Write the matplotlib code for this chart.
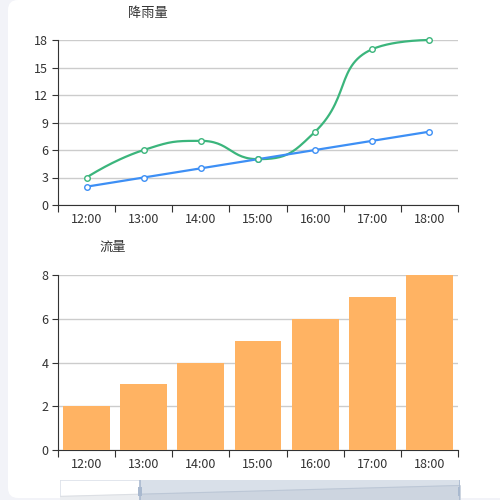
import numpy as np
import matplotlib
matplotlib.use("Agg")
import matplotlib.pyplot as plt
from matplotlib.patches import FancyBboxPatch, Rectangle

plt.rcParams['font.family'] = ['Noto Sans CJK SC', 'DejaVu Sans']

hours = ['12:00', '13:00', '14:00', '15:00', '16:00', '17:00', '18:00']
rain_green = [3, 6, 7, 5, 8, 17, 18]
rain_blue = [2, 3, 4, 5, 6, 7, 8]
flow = [2, 3, 4, 5, 6, 7, 8]

GREEN = '#3bb57c'
BLUE = '#3d8ff5'
ORANGE = '#ffb363'
TXT = '#333333'
GRID = '#cccccc'


def clamp(v, a, b):
    return min(max(v, min(a, b)), max(a, b))


def smooth_path(ax, xs, ys, smooth=0.5, n=30):
    # echarts style bezier smoothing with clamped control points, in pixel space
    pts = ax.transData.transform(np.column_stack([xs, ys]))
    m = len(pts)
    cps = []
    for i in range(m):
        p = pts[i]
        if i == 0 or i == m - 1:
            cps.append((p.copy(), p.copy()))
            continue
        prev, nxt = pts[i - 1], pts[i + 1]
        vec = nxt - prev
        lp = np.linalg.norm(p - prev)
        ln = np.linalg.norm(nxt - p)
        r = ln / (ln + lp)
        c1 = p + vec * smooth * r
        c1 = np.array([clamp(c1[0], nxt[0], p[0]), clamp(c1[1], nxt[1], p[1])])
        c0 = p - (c1 - p) * lp / ln
        c0 = np.array([clamp(c0[0], prev[0], p[0]), clamp(c0[1], prev[1], p[1])])
        c1 = p + (p - c0) * ln / lp
        cps.append((c0, c1))
    out = [pts[0]]
    t = np.linspace(0, 1, n)[1:, None]
    for i in range(m - 1):
        p0, p3 = pts[i], pts[i + 1]
        p1, p2 = cps[i][1], cps[i + 1][0]
        seg = ((1 - t) ** 3) * p0 + 3 * ((1 - t) ** 2) * t * p1 + 3 * (1 - t) * t ** 2 * p2 + t ** 3 * p3
        out.extend(seg)
    out = ax.transData.inverted().transform(np.array(out))
    return out[:, 0], out[:, 1]


def style_axis(ax, ymax, step):
    ax.set_xlim(-0.5, len(hours) - 0.5)
    ax.set_ylim(0, ymax)
    ax.set_yticks(np.arange(0, ymax + 0.1, step))
    ax.set_xticks(np.arange(-0.5, len(hours), 1.0))
    ax.set_xticklabels([])
    ax.set_xticks(np.arange(len(hours)), minor=True)
    ax.set_xticklabels(hours, minor=True)
    ax.tick_params(axis='x', which='major', length=5, color=TXT, direction='out')
    ax.tick_params(axis='x', which='minor', length=0, pad=6, labelsize=9, labelcolor=TXT)
    ax.tick_params(axis='y', length=4, color=TXT, labelsize=9, labelcolor=TXT, pad=3)
    ax.grid(axis='y', color=GRID, linewidth=1)
    ax.set_axisbelow(True)
    for s in ['top', 'right']:
        ax.spines[s].set_visible(False)
    ax.spines['left'].set_color(TXT)
    ax.spines['bottom'].set_color(TXT)
    ax.set_facecolor('none')


fig = plt.figure(figsize=(5, 5), dpi=100)
fig.patch.set_facecolor('#f2f3f8')
card = FancyBboxPatch((0.036, 0.024), 1.2, 0.956, boxstyle='round,pad=0.02,rounding_size=0.02',
                      transform=fig.transFigure, facecolor='white', edgecolor='none', zorder=-5)
fig.patches.append(card)

# top chart
ax1 = fig.add_axes([0.116, 0.59, 0.8, 0.33])
style_axis(ax1, 18, 3)
fig.canvas.draw()
sx, sy = smooth_path(ax1, np.arange(len(hours)), rain_green)
ax1.plot(sx, sy, color=GREEN, linewidth=1.6, zorder=3, clip_on=False)
ax1.plot(np.arange(len(hours)), rain_green, 'o', markersize=4, markerfacecolor='white',
         markeredgecolor=GREEN, markeredgewidth=1, zorder=4, clip_on=False)
ax1.plot(np.arange(len(hours)), rain_blue, color=BLUE, linewidth=1.6, marker='o', markersize=4,
         markerfacecolor='white', markeredgecolor=BLUE, markeredgewidth=1, zorder=3, clip_on=False)
fig.text(0.296, 0.974, '降雨量', ha='center', va='center', fontsize=9.5, color=TXT)

# bottom chart
ax2 = fig.add_axes([0.116, 0.10, 0.8, 0.35])
style_axis(ax2, 8, 2)
ax2.bar(np.arange(len(hours)), flow, width=0.82, color=ORANGE, zorder=3)
fig.text(0.226, 0.506, '流量', ha='center', va='center', fontsize=9.5, color=TXT)

# data zoom slider
axz = fig.add_axes([0.12, 0.0, 0.8, 0.04])
axz.set_xlim(0, len(hours) - 1)
axz.set_ylim(0, 11)
axz.axis('off')
xs = np.arange(len(hours))
sel = 1.2
axz.add_patch(Rectangle((0, 0), len(hours) - 1, 11, facecolor='white', edgecolor='#dde2ea',
                        linewidth=1.2, zorder=1))
axz.fill_between(xs, 0, flow, color='#eceef1', zorder=2)
axz.plot(xs, flow, color='#dcdfe4', linewidth=0.8, zorder=2)
axz.add_patch(Rectangle((sel, 0), len(hours) - 1 - sel, 11, facecolor='#d9e0e9', edgecolor='none',
                        zorder=3))
xx = np.linspace(sel, len(hours) - 1, 50)
yy = np.interp(xx, xs, flow)
axz.fill_between(xx, 0, yy, color='#cdd5e0', zorder=4)
axz.plot(xx, yy, color='#bcc7d6', linewidth=0.8, zorder=4)
for hx in [sel, len(hours) - 1]:
    axz.axvline(hx, color='#a9b9cf', linewidth=1.2, zorder=5)
    axz.add_patch(Rectangle((hx - 0.035, 2.2), 0.07, 5.0, facecolor='#a9b9cf', edgecolor='none', zorder=6))

fig.savefig('out.png', dpi=100, facecolor=fig.get_facecolor())
